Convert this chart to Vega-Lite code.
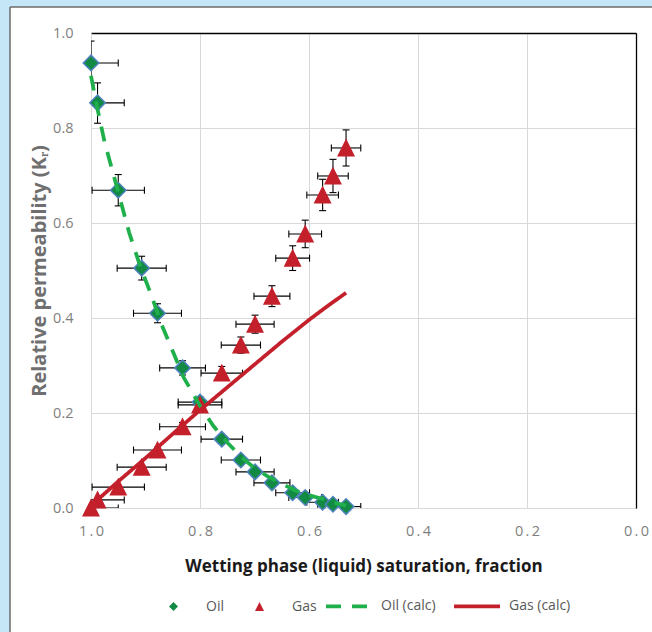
{
  "$schema": "https://vega.github.io/schema/vega-lite/v6.json",
  "width": 545,
  "height": 475,
  "autosize": {"type": "none"},
  "padding": {"left": 91, "top": 33, "right": 16, "bottom": 124},
  "background": "#ffffff",
  "config": {
    "view": {"stroke": null},
    "font": "Open Sans",
    "axis": {"labelFont": "Open Sans", "titleFont": "Open Sans"},
    "axisTop": {"domainColor": "#000000", "domainWidth": 1.3, "labels": false, "ticks": false, "grid": false, "zindex": 1},
    "axisRight": {"domainColor": "#000000", "domainWidth": 1.3, "labels": false, "ticks": false, "grid": false, "zindex": 1}
  },
  "datasets": {
    "points": [
      {"series": "Oil", "x": 1.0, "y": 0.937, "xlo": 0.95, "xhi": 1.05, "ylo": 0.89, "yhi": 0.983},
      {"series": "Oil", "x": 0.988, "y": 0.853, "xlo": 0.939, "xhi": 1.037, "ylo": 0.81, "yhi": 0.895},
      {"series": "Oil", "x": 0.95, "y": 0.669, "xlo": 0.902, "xhi": 0.998, "ylo": 0.636, "yhi": 0.702},
      {"series": "Oil", "x": 0.907, "y": 0.505, "xlo": 0.862, "xhi": 0.952, "ylo": 0.48, "yhi": 0.53},
      {"series": "Oil", "x": 0.878, "y": 0.41, "xlo": 0.834, "xhi": 0.922, "ylo": 0.39, "yhi": 0.43},
      {"series": "Oil", "x": 0.832, "y": 0.295, "xlo": 0.79, "xhi": 0.874, "ylo": 0.28, "yhi": 0.31},
      {"series": "Oil", "x": 0.8, "y": 0.223, "xlo": 0.76, "xhi": 0.84, "ylo": 0.212, "yhi": 0.234},
      {"series": "Oil", "x": 0.76, "y": 0.145, "xlo": 0.722, "xhi": 0.798, "ylo": 0.138, "yhi": 0.152},
      {"series": "Oil", "x": 0.725, "y": 0.101, "xlo": 0.689, "xhi": 0.761, "ylo": 0.096, "yhi": 0.106},
      {"series": "Oil", "x": 0.699, "y": 0.076, "xlo": 0.664, "xhi": 0.734, "ylo": 0.072, "yhi": 0.08},
      {"series": "Oil", "x": 0.668, "y": 0.053, "xlo": 0.635, "xhi": 0.701, "ylo": 0.05, "yhi": 0.056},
      {"series": "Oil", "x": 0.63, "y": 0.032, "xlo": 0.599, "xhi": 0.661, "ylo": 0.03, "yhi": 0.034},
      {"series": "Oil", "x": 0.607, "y": 0.022, "xlo": 0.577, "xhi": 0.637, "ylo": 0.021, "yhi": 0.023},
      {"series": "Oil", "x": 0.575, "y": 0.012, "xlo": 0.546, "xhi": 0.604, "ylo": 0.011, "yhi": 0.013},
      {"series": "Oil", "x": 0.556, "y": 0.008, "xlo": 0.528, "xhi": 0.584, "ylo": 0.0076, "yhi": 0.0084},
      {"series": "Oil", "x": 0.532, "y": 0.003, "xlo": 0.505, "xhi": 0.559, "ylo": 0.0028, "yhi": 0.0032},
      {"series": "Gas", "x": 1.0, "y": 0.0, "xlo": 0.95, "xhi": 1.05, "ylo": 0.0, "yhi": 0.0},
      {"series": "Gas", "x": 0.988, "y": 0.017, "xlo": 0.939, "xhi": 1.037, "ylo": 0.016, "yhi": 0.018},
      {"series": "Gas", "x": 0.95, "y": 0.044, "xlo": 0.902, "xhi": 0.998, "ylo": 0.042, "yhi": 0.046},
      {"series": "Gas", "x": 0.907, "y": 0.086, "xlo": 0.862, "xhi": 0.952, "ylo": 0.082, "yhi": 0.09},
      {"series": "Gas", "x": 0.878, "y": 0.122, "xlo": 0.834, "xhi": 0.922, "ylo": 0.116, "yhi": 0.128},
      {"series": "Gas", "x": 0.832, "y": 0.171, "xlo": 0.79, "xhi": 0.874, "ylo": 0.162, "yhi": 0.18},
      {"series": "Gas", "x": 0.8, "y": 0.217, "xlo": 0.76, "xhi": 0.84, "ylo": 0.206, "yhi": 0.228},
      {"series": "Gas", "x": 0.76, "y": 0.284, "xlo": 0.722, "xhi": 0.798, "ylo": 0.27, "yhi": 0.298},
      {"series": "Gas", "x": 0.725, "y": 0.343, "xlo": 0.689, "xhi": 0.761, "ylo": 0.326, "yhi": 0.36},
      {"series": "Gas", "x": 0.699, "y": 0.387, "xlo": 0.664, "xhi": 0.734, "ylo": 0.368, "yhi": 0.406},
      {"series": "Gas", "x": 0.668, "y": 0.446, "xlo": 0.635, "xhi": 0.701, "ylo": 0.424, "yhi": 0.468},
      {"series": "Gas", "x": 0.63, "y": 0.526, "xlo": 0.599, "xhi": 0.661, "ylo": 0.5, "yhi": 0.552},
      {"series": "Gas", "x": 0.607, "y": 0.577, "xlo": 0.577, "xhi": 0.637, "ylo": 0.548, "yhi": 0.606},
      {"series": "Gas", "x": 0.575, "y": 0.659, "xlo": 0.546, "xhi": 0.604, "ylo": 0.626, "yhi": 0.692},
      {"series": "Gas", "x": 0.556, "y": 0.699, "xlo": 0.528, "xhi": 0.584, "ylo": 0.664, "yhi": 0.734},
      {"series": "Gas", "x": 0.532, "y": 0.758, "xlo": 0.505, "xhi": 0.559, "ylo": 0.72, "yhi": 0.796}
    ],
    "calc": [
      {"series": "Oil (calc)", "x": 1.0, "y": 0.91},
      {"series": "Oil (calc)", "x": 0.99, "y": 0.85},
      {"series": "Oil (calc)", "x": 0.975, "y": 0.77},
      {"series": "Oil (calc)", "x": 0.95, "y": 0.665},
      {"series": "Oil (calc)", "x": 0.93, "y": 0.58},
      {"series": "Oil (calc)", "x": 0.91, "y": 0.51},
      {"series": "Oil (calc)", "x": 0.89, "y": 0.45},
      {"series": "Oil (calc)", "x": 0.87, "y": 0.385},
      {"series": "Oil (calc)", "x": 0.85, "y": 0.33},
      {"series": "Oil (calc)", "x": 0.83, "y": 0.275},
      {"series": "Oil (calc)", "x": 0.8, "y": 0.215},
      {"series": "Oil (calc)", "x": 0.775, "y": 0.172},
      {"series": "Oil (calc)", "x": 0.75, "y": 0.138},
      {"series": "Oil (calc)", "x": 0.725, "y": 0.108},
      {"series": "Oil (calc)", "x": 0.7, "y": 0.084},
      {"series": "Oil (calc)", "x": 0.675, "y": 0.066},
      {"series": "Oil (calc)", "x": 0.65, "y": 0.051},
      {"series": "Oil (calc)", "x": 0.625, "y": 0.037},
      {"series": "Oil (calc)", "x": 0.6, "y": 0.027},
      {"series": "Oil (calc)", "x": 0.575, "y": 0.019},
      {"series": "Oil (calc)", "x": 0.55, "y": 0.01},
      {"series": "Oil (calc)", "x": 0.532, "y": 0.005},
      {"series": "Gas (calc)", "x": 1.0, "y": 0.0},
      {"series": "Gas (calc)", "x": 0.988, "y": 0.017},
      {"series": "Gas (calc)", "x": 0.95, "y": 0.056},
      {"series": "Gas (calc)", "x": 0.9, "y": 0.105},
      {"series": "Gas (calc)", "x": 0.85, "y": 0.156},
      {"series": "Gas (calc)", "x": 0.8, "y": 0.206},
      {"series": "Gas (calc)", "x": 0.75, "y": 0.254},
      {"series": "Gas (calc)", "x": 0.7, "y": 0.302},
      {"series": "Gas (calc)", "x": 0.65, "y": 0.35},
      {"series": "Gas (calc)", "x": 0.6, "y": 0.396},
      {"series": "Gas (calc)", "x": 0.565, "y": 0.426},
      {"series": "Gas (calc)", "x": 0.532, "y": 0.453}
    ]
  },
  "layer": [
    {
      "data": {"values": [{}]},
      "layer": [
        {
          "mark": {"type": "rect", "color": "#c5e6f6"},
          "encoding": {
            "x": {"datum": 1.19, "type": "quantitative", "scale": {"domain": [0, 1], "reverse": true, "nice": false, "zero": false}, "axis": {"orient": "top", "title": null}},
            "x2": {"datum": 1.1486},
            "y": {"datum": 1.09, "type": "quantitative", "scale": {"domain": [0, 1], "nice": false, "zero": false}, "axis": {"orient": "right", "title": null}},
            "y2": {"datum": -0.29}
          }
        },
        {
          "mark": {"type": "rect", "color": "#c5e6f6"},
          "encoding": {
            "x": {"datum": 1.19, "type": "quantitative", "scale": {"domain": [0, 1], "reverse": true, "nice": false, "zero": false}, "axis": {"orient": "top", "title": null}},
            "x2": {"datum": -0.05},
            "y": {"datum": 1.09, "type": "quantitative", "scale": {"domain": [0, 1], "nice": false, "zero": false}, "axis": {"orient": "right", "title": null}},
            "y2": {"datum": 1.0547}
          }
        },
        {
          "mark": {"type": "rule", "color": "#6b6b6b", "strokeWidth": 1.5},
          "encoding": {
            "x": {"datum": 1.1486, "type": "quantitative", "scale": {"domain": [0, 1], "reverse": true, "nice": false, "zero": false}, "axis": {"orient": "top", "title": null}},
            "y": {"datum": 1.0547, "type": "quantitative", "scale": {"domain": [0, 1], "nice": false, "zero": false}, "axis": {"orient": "right", "title": null}},
            "y2": {"datum": -0.29}
          }
        },
        {
          "mark": {"type": "rule", "color": "#6b6b6b", "strokeWidth": 1.5},
          "encoding": {
            "x": {"datum": 1.1486, "type": "quantitative", "scale": {"domain": [0, 1], "reverse": true, "nice": false, "zero": false}, "axis": {"orient": "top", "title": null}},
            "x2": {"datum": -0.05},
            "y": {"datum": 1.0547, "type": "quantitative", "scale": {"domain": [0, 1], "nice": false, "zero": false}, "axis": {"orient": "right", "title": null}}
          }
        }
      ]
    },
    {
      "layer": [
        {
          "data": {"name": "points"},
          "mark": {"type": "rule", "clip": true, "color": "#000000", "strokeWidth": 1.1},
          "encoding": {
            "x": {"field": "xlo", "type": "quantitative", "scale": {"domain": [0, 1], "reverse": true, "nice": false, "zero": false},
              "axis": {"orient": "bottom", "title": "Wetting phase (liquid) saturation, fraction", "values": [0, 0.2, 0.4, 0.6, 0.8, 1], "format": ".1f",
                "labelExpr": "join(split(datum.label, ''), '\u2009')", "labelFlush": false,
                "grid": true, "gridColor": "#d9d9d9", "domainColor": "#d9d9d9", "ticks": false,
                "labelColor": "#7f7f7f", "labelFontSize": 14.5, "labelPadding": 16,
                "titleFontSize": 17, "titleFontWeight": "bold", "titleColor": "#1a1a1a", "titlePadding": 21}},
            "x2": {"field": "xhi"},
            "y": {"field": "y", "type": "quantitative", "scale": {"domain": [0, 1], "nice": false, "zero": false},
              "axis": {"orient": "left", "title": "Relative permeability (Kᵣ)", "values": [0, 0.2, 0.4, 0.6, 0.8, 1], "format": ".1f",
                "grid": true, "gridColor": "#d9d9d9", "domainColor": "#d9d9d9", "ticks": false,
                "labelColor": "#7f7f7f", "labelFontSize": 14.5, "labelPadding": 18,
                "titleFontSize": 20, "titleFontWeight": "bold", "titleColor": "#6f6f6f", "titlePadding": 3}}
          }
        },
        {
          "data": {"name": "points"},
          "mark": {"type": "tick", "clip": true, "orient": "vertical", "size": 7, "thickness": 1.1, "color": "#000000", "opacity": 1},
          "encoding": {
            "x": {"field": "xlo", "type": "quantitative"},
            "y": {"field": "y", "type": "quantitative"}
          }
        },
        {
          "data": {"name": "points"},
          "mark": {"type": "tick", "clip": true, "orient": "vertical", "size": 7, "thickness": 1.1, "color": "#000000", "opacity": 1},
          "encoding": {
            "x": {"field": "xhi", "type": "quantitative"},
            "y": {"field": "y", "type": "quantitative"}
          }
        },
        {
          "data": {"name": "points"},
          "mark": {"type": "rule", "clip": true, "color": "#000000", "strokeWidth": 1.1},
          "encoding": {
            "x": {"field": "x", "type": "quantitative"},
            "y": {"field": "ylo", "type": "quantitative"},
            "y2": {"field": "yhi"}
          }
        },
        {
          "data": {"name": "points"},
          "mark": {"type": "tick", "clip": true, "orient": "horizontal", "size": 7, "thickness": 1.1, "color": "#000000", "opacity": 1},
          "encoding": {
            "x": {"field": "x", "type": "quantitative"},
            "y": {"field": "ylo", "type": "quantitative"}
          }
        },
        {
          "data": {"name": "points"},
          "mark": {"type": "tick", "clip": true, "orient": "horizontal", "size": 7, "thickness": 1.1, "color": "#000000", "opacity": 1},
          "encoding": {
            "x": {"field": "x", "type": "quantitative"},
            "y": {"field": "yhi", "type": "quantitative"}
          }
        },
        {
          "data": {"name": "points"},
          "mark": {"type": "point", "filled": true, "opacity": 1, "strokeWidth": 1.5, "size": 240},
          "encoding": {
            "x": {"field": "x", "type": "quantitative"},
            "y": {"field": "y", "type": "quantitative"},
            "fill": {"field": "series", "type": "nominal",
              "scale": {"domain": ["Oil", "Gas"], "range": ["#138a43", "#c4202b"]},
              "legend": {
                "orient": "none", "legendX": 75.5, "legendY": 566.5, "direction": "horizontal", "columns": 2,
                "title": null, "padding": 0, "labelFont": "Open Sans", "labelFontSize": 14, "labelColor": "#595959",
                "labelOffset": 25.5, "columnPadding": 28, "symbolSize": 80, "symbolStrokeWidth": 1, "symbolStrokeColor": "#4f81bd"
              }},
            "shape": {"field": "series", "type": "nominal", "scale": {"domain": ["Oil", "Gas"], "range": ["diamond", "M0,-1L1,1L-1,1Z"]},
              "legend": {
                "orient": "none", "legendX": 75.5, "legendY": 566.5, "direction": "horizontal", "columns": 2,
                "title": null, "padding": 0, "labelFont": "Open Sans", "labelFontSize": 14, "labelColor": "#595959",
                "labelOffset": 25.5, "columnPadding": 28, "symbolSize": 80, "symbolStrokeWidth": 1, "symbolStrokeColor": "#4f81bd"
              }},
            "stroke": {"condition": {"test": "datum.series === 'Oil'", "value": "#4f81bd"}, "value": "#c4202b"}
          }
        },
        {
          "data": {"name": "calc"},
          "mark": {"type": "line", "strokeWidth": 3.75},
          "encoding": {
            "x": {"field": "x", "type": "quantitative"},
            "y": {"field": "y", "type": "quantitative"},
            "color": {"field": "series", "type": "nominal",
              "scale": {"domain": ["Oil (calc)", "Gas (calc)"], "range": ["#1fb04b", "#c4202b"]},
              "legend": {
                "orient": "none", "legendX": 233, "legendY": 548, "direction": "horizontal", "columns": 2,
                "title": null, "padding": 0, "labelFont": "Open Sans", "labelFontSize": 14, "labelColor": "#595959",
                "labelOffset": 7, "columnPadding": 10, "symbolType": "stroke", "symbolSize": 2116, "symbolStrokeWidth": 3.75
              }},
            "strokeDash": {"field": "series", "type": "nominal", "scale": {"domain": ["Oil (calc)", "Gas (calc)"], "range": [[15, 11], [1, 0]]},
              "legend": {
                "orient": "none", "legendX": 233, "legendY": 548, "direction": "horizontal", "columns": 2,
                "title": null, "padding": 0, "labelFont": "Open Sans", "labelFontSize": 14, "labelColor": "#595959",
                "labelOffset": 7, "columnPadding": 10, "symbolType": "stroke", "symbolSize": 2116, "symbolStrokeWidth": 3.75
              }}
          }
        }
      ]
    }
  ],
  "resolve": {"axis": {"x": "independent", "y": "independent"}}
}
